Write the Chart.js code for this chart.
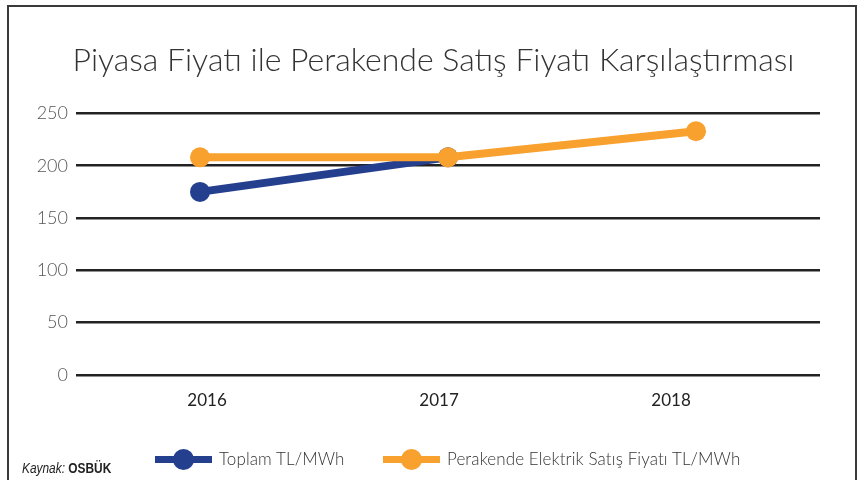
<!DOCTYPE html>
<html>
<head>
<meta charset="utf-8">
<script src="https://cdn.jsdelivr.net/npm/chart.js@4/dist/chart.umd.min.js"></script>
<style>
html,body{margin:0;padding:0;background:#fff;width:867px;height:480px;overflow:hidden;position:relative;font-family:Lato,"Open Sans",sans-serif;}
#frame{position:absolute;left:7px;top:5px;width:850px;height:500px;border:2px solid #3a3a3a;box-sizing:border-box;}
#wrap{position:absolute;left:0;top:0;width:867px;height:480px;}
.leg{position:absolute;top:447px;height:24px;font-size:17px;font-weight:300;color:#333;white-space:nowrap;letter-spacing:0.1px;}
.leg .ln{position:absolute;top:9px;height:7px;width:57px;}
.leg .dt{position:absolute;top:2px;width:21px;height:21px;border-radius:50%;left:18px;}
.leg .tx{position:absolute;left:64px;top:0;line-height:24px;}
#src{position:absolute;left:22px;top:460px;font-family:"Liberation Sans Narrow","Liberation Sans",sans-serif;font-size:14px;color:#222;transform:scaleX(0.85);transform-origin:left;}
</style>
</head>
<body>
<div id="frame"></div>
<div id="wrap"><canvas id="c" width="867" height="480"></canvas></div>
<div id="legend"></div>
<div id="src"><i>Kaynak:</i> <b>OSBÜK</b></div>
<script>
const title = "Piyasa Fiyatı ile Perakende Satış Fiyatı Karşılaştırması";
const categories = ["2016", "2017", "2018"];
const seriesNames = ["Toplam TL/MWh", "Perakende Elektrik Satış Fiyatı TL/MWh"];
const toplam = [175, 208, null];
const perakende = [208, 208, 233];
const yTicks = [0, 50, 100, 150, 200, 250];
const colors = ["#253f8f", "#f9a12e"];

const legendPos = [155, 383];
const legendEl = document.getElementById('legend');
seriesNames.forEach((n, i) => {
  const d = document.createElement('div');
  d.className = 'leg';
  d.style.left = legendPos[i] + 'px';
  d.innerHTML = '<div class="ln" style="background:' + colors[i] + '"></div><div class="dt" style="background:' + colors[i] + '"></div><div class="tx">' + n + '</div>';
  legendEl.appendChild(d);
});

const yearNums = categories.map(Number);

new Chart(document.getElementById('c'), {
  type: 'line',
  data: {
    labels: categories,
    datasets: [
      {label: seriesNames[0], data: toplam, order: 2, borderColor: colors[0], backgroundColor: colors[0], borderWidth: 8, pointRadius: 10, pointHoverRadius: 10, pointBorderWidth: 0, tension: 0},
      {label: seriesNames[1], data: perakende, order: 1, borderColor: colors[1], backgroundColor: colors[1], borderWidth: 8, pointRadius: 10, pointHoverRadius: 10, pointBorderWidth: 0, tension: 0}
    ]
  },
  options: {
    responsive: false,
    animation: false,
    events: [],
    layout: {padding: {left: 0, right: 0, top: 0, bottom: 65}},
    plugins: {
      legend: {display: false},
      tooltip: {enabled: false},
      title: {display: true, text: title, color: '#333', font: {family: 'Lato', size: 32, weight: '300'}, padding: {top: 41, bottom: 34}}
    },
    scales: {
      x: {
        offset: true,
        display: false,
        grid: {display: false}
      },
      xl: {
        type: 'linear',
        position: 'bottom',
        min: 2015.435, max: 2018.642,
        afterBuildTicks: s => { s.ticks = yearNums.map(v => ({value: v})); },
        grid: {display: false, drawTicks: false},
        border: {display: false},
        ticks: {color: '#222', font: {family: 'Lato', size: 17, weight: '400'}, padding: 15, callback: v => categories[yearNums.indexOf(v)]},
        afterFit: s => { s.height = 40; }
      },
      y: {
        min: 0, max: 250,
        afterBuildTicks: s => { s.ticks = yTicks.map(v => ({value: v})); },
        grid: {color: '#222', lineWidth: 2.5, drawTicks: false},
        border: {display: false},
        ticks: {color: '#555', font: {family: 'Lato', size: 18, weight: '300'}, padding: 8},
        afterFit: s => { s.width = 76; }
      },
      yr: {
        position: 'right',
        min: 0, max: 250,
        grid: {display: false, drawTicks: false},
        border: {display: false},
        ticks: {display: false},
        afterFit: s => { s.width = 47; }
      }
    }
  }
});
</script>
</body>
</html>
